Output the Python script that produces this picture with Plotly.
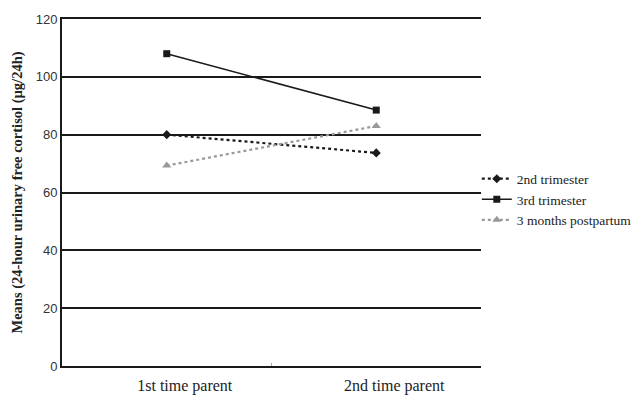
import plotly.graph_objects as go

categories = ["1st time parent", "2nd time parent"]
trim2 = [80, 73.7]
trim3 = [108, 88.5]
postpartum = [69.3, 83]
y_ticks = [0, 20, 40, 60, 80, 100, 120]

fig = go.Figure()
fig.add_trace(go.Scatter(x=categories, y=trim2, name="2nd trimester", mode="lines+markers",
                         line=dict(color="#1a1a1a", width=2.2, dash="dot"),
                         marker=dict(symbol="diamond", size=7, color="#1a1a1a")))
fig.add_trace(go.Scatter(x=categories, y=trim3, name="3rd trimester", mode="lines+markers",
                         line=dict(color="#1a1a1a", width=1.6),
                         marker=dict(symbol="square", size=7, color="#1a1a1a")))
fig.add_trace(go.Scatter(x=categories, y=postpartum, name="3 months postpartum", mode="lines+markers",
                         line=dict(color="#999999", width=2.2, dash="dot"),
                         marker=dict(symbol="triangle-up", size=8, color="#999999")))

fig.update_layout(
    width=631, height=391,
    margin=dict(l=54, r=158, t=11, b=33, autoexpand=False),
    paper_bgcolor="white", plot_bgcolor="white",
    showlegend=True,
    legend=dict(x=0.99, y=0.48, xanchor="left", yanchor="middle",
                font=dict(family="Liberation Serif", size=13.5, color="#222"),
                itemwidth=30, tracegroupgap=0, bgcolor="rgba(0,0,0,0)"),
    xaxis=dict(type="category", range=[-0.5, 1.5], showgrid=False, automargin=False,
               showline=True, mirror=True, linecolor="#1a1a1a", linewidth=2,
               ticks="inside", ticklen=3, tickcolor="#aaaaaa", tickwidth=1, tickson="boundaries",
               tickfont=dict(family="Liberation Serif", size=16, color="#222"),
               ticklabelstandoff=4, ticklabelshift=18, zeroline=False),
    yaxis=dict(range=[0, 120], tickvals=y_ticks, showgrid=True, gridcolor="#1a1a1a", gridwidth=2,
               automargin=False,
               showline=True, linecolor="#1a1a1a", linewidth=2, zeroline=False,
               tickfont=dict(family="Liberation Sans", size=13, color="#333"),
               ticks="",
               title=dict(text="<b>Means (24-hour urinary free cortisol (µg/24h)</b>",
                          font=dict(family="Liberation Serif", size=14.5, color="#222"),
                          standoff=10)),
)
fig.write_html("out.html")
